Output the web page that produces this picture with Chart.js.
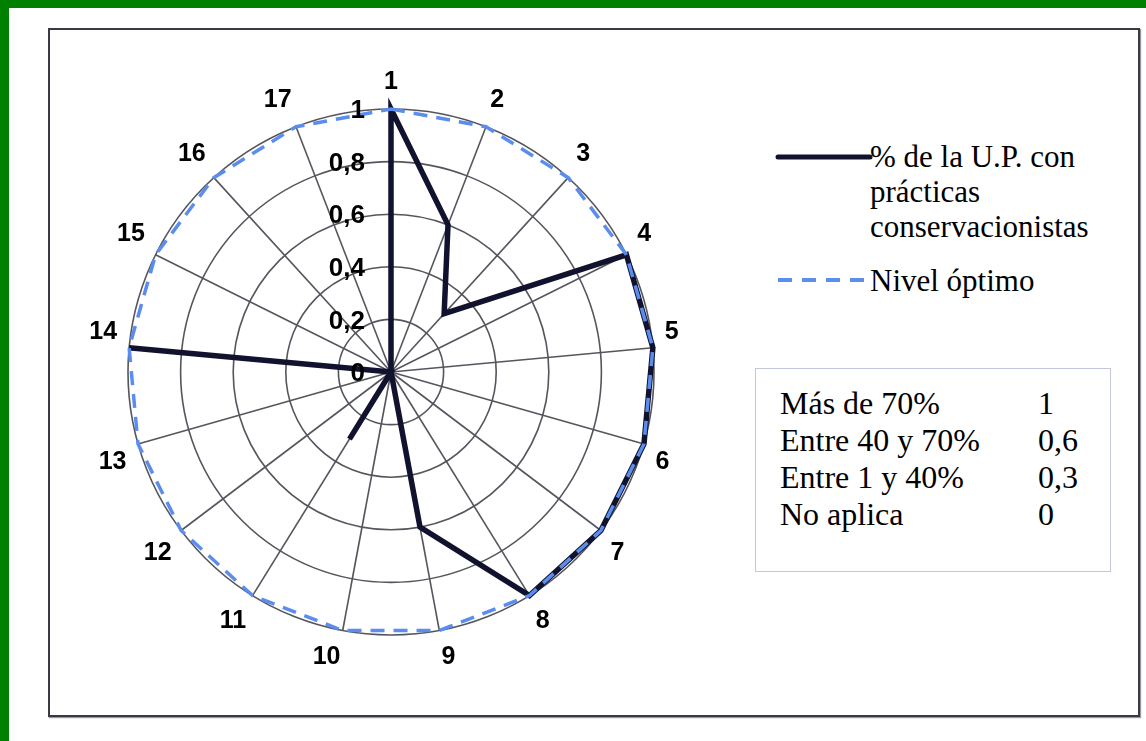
<!DOCTYPE html>
<html>
<head>
<meta charset="utf-8">
<script src="https://cdn.jsdelivr.net/npm/chart.js@4.4.0/dist/chart.umd.min.js"></script>
<style>
  body { margin: 0; background: #fff; width: 1146px; height: 741px; position: relative; overflow: hidden; }
  .green-top { position: absolute; left: 0; top: 0; width: 1146px; height: 8px; background: #008000; }
  .green-left { position: absolute; left: 0; top: 0; width: 9px; height: 741px; background: #008000; }
  .frame { position: absolute; left: 48px; top: 28px; width: 1088px; height: 685px; border: 2px solid #3a3a44; box-shadow: 1px 1px 1px #999; }
  #wrap { position: absolute; left: 45px; top: 30px; width: 680px; height: 680px; }
  .legend { position: absolute; left: 870px; top: 139px; font-family: "Liberation Serif", serif; font-size: 31px; line-height: 35px; color: #000; }
  .tabla { position: absolute; left: 755px; top: 368px; width: 354px; height: 202px; border: 1px solid #c3c8d8; font-family: "Liberation Serif", serif; font-size: 32px; color: #000; }
  .tabla div { position: absolute; }
</style>
</head>
<body>
<div class="green-top"></div>
<div class="green-left"></div>
<div class="frame"></div>
<div id="wrap"><canvas id="radar"></canvas></div>

<svg style="position:absolute;left:770px;top:145px" width="110" height="150">
  <line x1="8" y1="12" x2="100" y2="12" stroke="#10122e" stroke-width="5" stroke-linecap="round"/>
  <line x1="8" y1="135" x2="98" y2="135" stroke="#5b8def" stroke-width="4" stroke-dasharray="14 10"/>
</svg>
<div class="legend" id="leg1"></div>
<div class="legend" id="leg2" style="top:263px"></div>

<div class="tabla" id="tabla"></div>

<script>
// datos
const categories = ['1','2','3','4','5','6','7','8','9','10','11','12','13','14','15','16','17'];
const practicas = [1, 0.6, 0.3, 1, 1, 1, 1, 1, 0.6, 0, 0.3, 0, 0, 1, 0, 0, 0];
const optimo = [1, 1, 1, 1, 1, 1, 1, 1, 1, 1, 1, 1, 1, 1, 1, 1, 1];
const tickValues = [0, 0.2, 0.4, 0.6, 0.8, 1];
const tickLabels = ['0', '0,2', '0,4', '0,6', '0,8', '1'];
const serieNames = ['% de la U.P. con<br>prácticas<br>conservacionistas', 'Nivel óptimo'];
const tablaRangos = ['Más de 70%', 'Entre 40 y 70%', 'Entre 1 y 40%', 'No aplica'];
const tablaValores = ['1', '0,6', '0,3', '0'];

document.getElementById('leg1').innerHTML = serieNames[0];
document.getElementById('leg2').innerHTML = serieNames[1];

const tabla = document.getElementById('tabla');
tablaRangos.forEach((t, i) => {
  const a = document.createElement('div');
  a.style.left = '24px'; a.style.top = (16 + i * 37) + 'px';
  a.textContent = t;
  const b = document.createElement('div');
  b.style.left = '282px'; b.style.top = (16 + i * 37) + 'px';
  b.textContent = tablaValores[i];
  tabla.appendChild(a); tabla.appendChild(b);
});

// etiquetas de escala a la izquierda del eje 1
const tickLabelPlugin = {
  id: 'tickLabelPlugin',
  afterDraw(chart) {
    const s = chart.scales.r;
    const c = chart.ctx;
    c.save();
    c.font = 'bold 26px "Liberation Sans", Arial, sans-serif';
    c.fillStyle = '#000';
    c.textAlign = 'right';
    c.textBaseline = 'middle';
    tickValues.forEach((v, i) => {
      const y = s.yCenter - s.getDistanceFromCenterForValue(v);
      c.fillText(tickLabels[i], s.xCenter - 26, y + 2);
    });
    c.restore();
  }
};

new Chart(document.getElementById('radar'), {
  type: 'radar',
  data: {
    labels: categories,
    datasets: [
      {
        label: 'Nivel óptimo',
        data: optimo,
        borderColor: '#5b8def',
        borderWidth: 3.5,
        borderDash: [14, 9],
        pointRadius: 0,
        fill: false,
        order: 1
      },
      {
        label: '% de la U.P. con prácticas conservacionistas',
        data: practicas,
        borderColor: '#10122e',
        borderWidth: 5.5,
        borderJoinStyle: 'miter',
        pointRadius: 0,
        fill: false,
        order: 2
      }
    ]
  },
  options: {
    responsive: true,
    maintainAspectRatio: false,
    animation: false,
    layout: { padding: 35 },
    plugins: {
      legend: { display: false },
      tooltip: { enabled: false }
    },
    scales: {
      r: {
        min: 0,
        max: 1,
        ticks: { stepSize: 0.2, display: false },
        grid: { circular: true, color: '#55555e', lineWidth: 1.6 },
        angleLines: { color: '#55555e', lineWidth: 1.6 },
        pointLabels: {
          color: '#000',
          padding: 12,
          font: { family: '"Liberation Sans", Arial, sans-serif', size: 25, weight: 'bold' }
        }
      }
    }
  },
  plugins: [tickLabelPlugin]
});
</script>
</body>
</html>
